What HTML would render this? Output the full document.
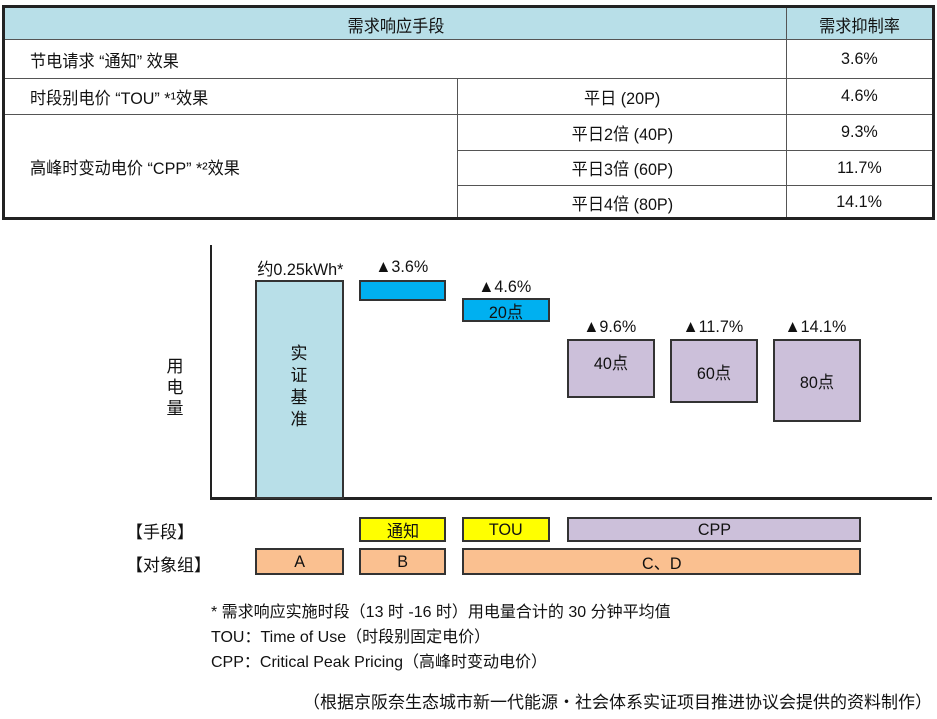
<!DOCTYPE html>
<html><head><meta charset="utf-8"><style>
body{margin:0;width:937px;height:719px;background:#fff;position:relative;overflow:hidden;font-family:"Liberation Sans","Noto Sans CJK SC",sans-serif;color:#111}
.a{position:absolute;box-sizing:border-box}
.c{display:flex;align-items:center;justify-content:center;font-size:17px}
.t{display:inline-block;transform:scaleX(.95);white-space:nowrap}
.bx{border:2px solid #333}
.l{font-size:17px;white-space:nowrap}
</style></head><body>
<!-- table -->
<div class="a" style="left:2px;top:5px;width:933px;height:215px;border:3px solid #222"></div>
<div class="a" style="left:5px;top:8px;width:927px;height:32px;background:#b8dfe8;border-bottom:1px solid #555"></div>
<div class="a" style="left:786px;top:8px;width:1px;height:209px;background:#555"></div>
<div class="a" style="left:457px;top:78px;width:1px;height:139px;background:#555"></div>
<div class="a" style="left:5px;top:78px;width:927px;height:1px;background:#555"></div>
<div class="a" style="left:5px;top:114px;width:927px;height:1px;background:#555"></div>
<div class="a" style="left:457px;top:150px;width:475px;height:1px;background:#555"></div>
<div class="a" style="left:457px;top:185px;width:475px;height:1px;background:#555"></div>
<div class="a c" style="left:5px;top:8px;width:781px;height:32px"><span class="t">需求响应手段</span></div>
<div class="a c" style="left:787px;top:8px;width:145px;height:32px"><span class="t">需求抑制率</span></div>
<div class="a c" style="left:30px;top:40px;height:38px;justify-content:flex-start"><span class="t" style="transform-origin:left">节电请求 “通知” 效果</span></div>
<div class="a c" style="left:30px;top:78px;height:36px;justify-content:flex-start"><span class="t" style="transform-origin:left">时段别电价 “TOU” *¹效果</span></div>
<div class="a c" style="left:30px;top:114px;height:105px;justify-content:flex-start"><span class="t" style="transform-origin:left">高峰时变动电价 “CPP” *²效果</span></div>
<div class="a c" style="left:787px;top:40px;width:145px;height:38px"><span class="t">3.6%</span></div>
<div class="a c" style="left:787px;top:78px;width:145px;height:36px"><span class="t">4.6%</span></div>
<div class="a c" style="left:787px;top:114px;width:145px;height:36px"><span class="t">9.3%</span></div>
<div class="a c" style="left:787px;top:150px;width:145px;height:35px"><span class="t">11.7%</span></div>
<div class="a c" style="left:787px;top:185px;width:145px;height:34px"><span class="t">14.1%</span></div>
<div class="a c" style="left:458px;top:78px;width:328px;height:36px"><span class="t">平日 (20P)</span></div>
<div class="a c" style="left:458px;top:114px;width:328px;height:36px"><span class="t">平日2倍 (40P)</span></div>
<div class="a c" style="left:458px;top:150px;width:328px;height:35px"><span class="t">平日3倍 (60P)</span></div>
<div class="a c" style="left:458px;top:185px;width:328px;height:34px"><span class="t">平日4倍 (80P)</span></div>
<!-- chart -->
<div class="a" style="left:210px;top:245px;width:2px;height:255px;background:#222"></div>
<div class="a" style="left:210px;top:497px;width:722px;height:3px;background:#222"></div>
<div class="a l" style="left:165px;top:356px;width:20px;line-height:21px;text-align:center">用<br>电<br>量</div>
<div class="a bx" style="left:255px;top:280px;width:89px;height:219px;background:#b8dfe8"></div>
<div class="a l" style="left:289px;top:343px;width:20px;line-height:22px;text-align:center">实<br>证<br>基<br>准</div>
<div class="a c" style="left:240px;top:256px;width:120px;height:22px"><span class="t">约0.25kWh*</span></div>
<div class="a bx" style="left:359px;top:280px;width:87px;height:21px;background:#00b0f0"></div>
<div class="a c" style="left:352px;top:256px;width:100px;height:22px"><span class="t">▲3.6%</span></div>
<div class="a bx c" style="left:462px;top:298px;width:88px;height:24px;background:#00b0f0"><span class="t">20点</span></div>
<div class="a c" style="left:455px;top:276px;width:100px;height:22px"><span class="t">▲4.6%</span></div>
<div class="a bx c" style="left:567px;top:339px;width:88px;height:59px;background:#ccc0da;padding-bottom:14px"><span class="t">40点</span></div>
<div class="a c" style="left:560px;top:316px;width:100px;height:22px"><span class="t">▲9.6%</span></div>
<div class="a bx c" style="left:670px;top:339px;width:88px;height:64px;background:#ccc0da"><span class="t">60点</span></div>
<div class="a c" style="left:663px;top:316px;width:100px;height:22px"><span class="t">▲11.7%</span></div>
<div class="a bx c" style="left:773px;top:339px;width:88px;height:83px;background:#ccc0da"><span class="t">80点</span></div>
<div class="a c" style="left:766px;top:316px;width:100px;height:22px"><span class="t">▲14.1%</span></div>
<div class="a l" style="left:126px;top:518px">【手段】</div>
<div class="a l" style="left:126px;top:551px">【对象组】</div>
<div class="a bx c" style="left:359px;top:517px;width:87px;height:25px;background:#ffff00"><span class="t">通知</span></div>
<div class="a bx c" style="left:462px;top:517px;width:88px;height:25px;background:#ffff00"><span class="t">TOU</span></div>
<div class="a bx c" style="left:567px;top:517px;width:294px;height:25px;background:#ccc0da"><span class="t">CPP</span></div>
<div class="a bx c" style="left:255px;top:548px;width:89px;height:27px;background:#fac090"><span class="t">A</span></div>
<div class="a bx c" style="left:359px;top:548px;width:87px;height:27px;background:#fac090"><span class="t">B</span></div>
<div class="a bx c" style="left:462px;top:548px;width:399px;height:27px;background:#fac090"><span class="t">C、D</span></div>
<!-- notes -->
<div class="a" style="left:211px;top:600px;font-size:16px;line-height:25px;white-space:nowrap">* 需求响应实施时段（13 时 -16 时）用电量合计的 30 分钟平均值<br>TOU：Time of Use（时段别固定电价）<br>CPP：Critical Peak Pricing（高峰时变动电价）</div>
<div class="a" style="right:5px;top:688px;font-size:17px;white-space:nowrap">（根据京阪奈生态城市新一代能源・社会体系实证项目推进协议会提供的资料制作）</div>
</body></html>
